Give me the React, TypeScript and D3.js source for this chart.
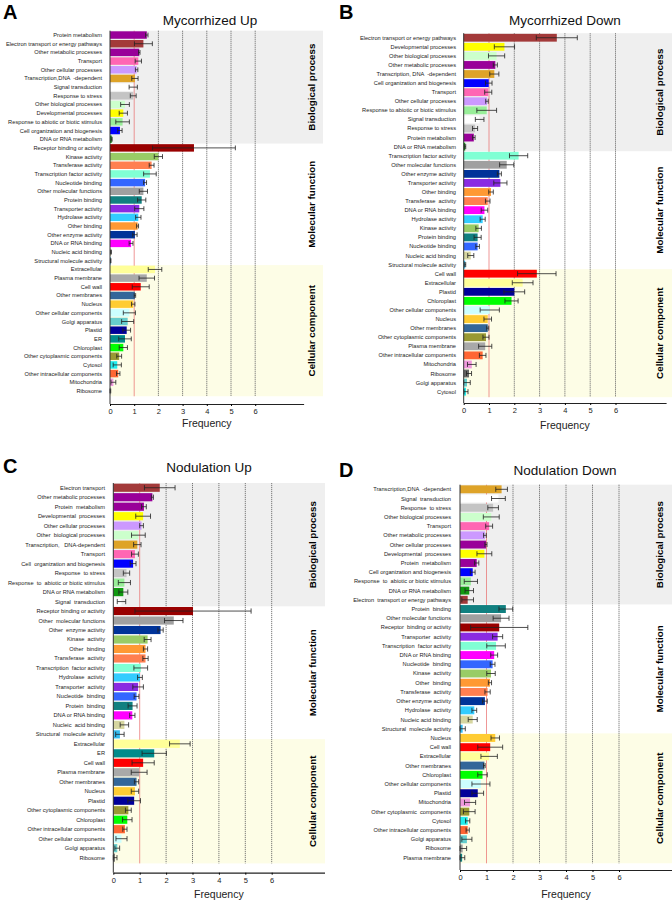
import React, { useEffect, useRef } from 'react';
import * as d3 from 'd3';

// ---- data ----
const sectionNames = ['Biological process', 'Molecular function', 'Cellular component'];

// A: Mycorrhized Up
const aLabels = [
  'Protein metabolism', 'Electron transport or energy pathways', 'Other metabolic processes', 'Transport',
  'Other cellular processes', 'Transcription,DNA  -dependent', 'Signal transduction', 'Response to stress',
  'Other biological processes', 'Developmental processes', 'Response to abiotic or biotic stimulus',
  'Cell organization and biogenesis', 'DNA or RNA metabolism',
  'Receptor binding or activity', 'Kinase activity', 'Transferase activity', 'Transcription factor activity',
  'Nucleotide binding', 'Other molecular functions', 'Protein binding', 'Transporter activity', 'Hydrolase activity',
  'Other binding', 'Other enzyme activity', 'DNA or RNA binding', 'Nucleic acid binding', 'Structural molecule activity',
  'Extracellular', 'Plasma membrane', 'Cell wall', 'Other membranes', 'Nucleus', 'Other cellular components',
  'Golgi apparatus', 'Plastid', 'ER', 'Chloroplast', 'Other cytoplasmic components', 'Cytosol',
  'Other intracellular components', 'Mitochondria', 'Ribosome',
];
const aValues = [
  1.52, 1.38, 1.21, 1.17, 1.1, 1.03, 0.96, 0.96, 0.62, 0.55, 0.52, 0.41, 0.07,
  3.47, 2.0, 1.72, 1.65, 1.45, 1.38, 1.31, 1.21, 1.17, 1.14, 1.03, 0.87, 0.04, 0.03,
  1.86, 1.52, 1.27, 1.03, 0.96, 0.8, 0.73, 0.69, 0.62, 0.55, 0.38, 0.3, 0.34, 0.14, 0.01,
];
const aErrors = [
  0.05, 0.37, 0.03, 0.13, 0.05, 0.13, 0.17, 0.12, 0.18, 0.17, 0.28, 0.09, 0.02,
  1.71, 0.17, 0.1, 0.26, 0.06, 0.17, 0.17, 0.19, 0.11, 0.04, 0.09, 0.08, 0.02, 0.01,
  0.28, 0.32, 0.35, 0.03, 0.07, 0.25, 0.25, 0.16, 0.26, 0.17, 0.1, 0.17, 0.07, 0.1, 0.02,
];
const aSections = [13, 14, 15];

// B: Mycorrhized Down
const bLabels = [
  'Electron transport or energy pathways', 'Developmental processes', 'Other biological processes',
  'Other metabolic processes', 'Transcription, DNA  -dependent', 'Cell organization and biogenesis', 'Transport',
  'Other cellular processes', 'Response to abiotic or biotic stimulus', 'Signal transduction', 'Response to stress',
  'Protein metabolism', 'DNA or RNA metabolism',
  'Transcription factor activity', 'Other molecular functions', 'Other enzyme activity', 'Transporter activity',
  'Other binding', 'Transferase  activity', 'DNA or RNA binding', 'Hydrolase activity', 'Kinase activity',
  'Protein binding', 'Nucleotide binding', 'Nucleic acid binding', 'Structural molecule activity',
  'Cell wall', 'Extracellular', 'Plastid', 'Chloroplast', 'Other cellular components', 'Nucleus', 'Other membranes',
  'Other cytoplasmic components', 'Plasma membrane', 'Other intracellular components', 'Mitochondria', 'Ribosome',
  'Golgi apparatus', 'Cytosol',
];
const bValues = [
  3.68, 1.61, 1.3, 1.25, 1.21, 0.99, 0.97, 0.92, 0.91, 0.63, 0.45, 0.4, 0.06,
  2.17, 1.7, 1.41, 1.45, 1.08, 0.95, 0.82, 0.75, 0.59, 0.55, 0.55, 0.28, 0.06,
  2.89, 2.33, 2.0, 1.89, 1.03, 0.95, 0.95, 0.88, 0.85, 0.75, 0.32, 0.21, 0.13, 0.09,
];
const bErrors = [
  0.81, 0.4, 0.32, 0.08, 0.18, 0.13, 0.14, 0.05, 0.39, 0.17, 0.1, 0.05, 0.02,
  0.36, 0.28, 0.08, 0.26, 0.09, 0.09, 0.13, 0.1, 0.11, 0.14, 0.07, 0.12, 0.02,
  0.76, 0.41, 0.41, 0.26, 0.38, 0.15, 0.04, 0.12, 0.26, 0.13, 0.17, 0.1, 0.13, 0.08,
];
const bSections = [13, 13, 14];

// C: Nodulation Up
const cLabels = [
  'Electron transport', 'Other metabolic processes', 'Protein  metabolism', 'Developmental  processes',
  'Other cellular processes', 'Other  biological processes', 'Transcription,   DNA-dependent', 'Transport',
  'Cell  organization and biogenesis', 'Response  to stress', 'Response  to  abiotic or biotic stimulus',
  'DNA or RNA metabolism', 'Signal  transduction',
  'Receptor binding or activity', 'Other  molecular functions', 'Other  enzyme activity', 'Kinase  activity',
  'Other  binding', 'Transferase  activity', 'Transcription  factor activity', 'Hydrolase  activity',
  'Transporter  activity', 'Nucleotide  binding', 'Protein  binding', 'DNA or RNA binding', 'Nucleic  acid binding',
  'Structural  molecule activity',
  'Extracellular', 'ER', 'Cell wall', 'Plasma membrane', 'Other membranes', 'Nucleus', 'Plastid',
  'Other cytoplasmic components', 'Chloroplast', 'Other intracellular components', 'Other cellular components',
  'Golgi apparatus', 'Ribosome',
];
const cValues = [
  1.76, 1.48, 1.16, 1.13, 1.07, 0.95, 0.91, 0.82, 0.75, 0.5, 0.42, 0.38, 0.31,
  3.02, 2.29, 1.79, 1.3, 1.22, 1.22, 1.04, 1.01, 0.94, 0.88, 0.73, 0.72, 0.42, 0.25,
  2.52, 1.55, 1.13, 0.98, 0.88, 0.82, 0.79, 0.57, 0.53, 0.44, 0.31, 0.15, 0.06,
];
const cErrors = [
  0.58, 0.04, 0.09, 0.28, 0.07, 0.26, 0.14, 0.13, 0.11, 0.12, 0.23, 0.17, 0.16,
  2.2, 0.35, 0.1, 0.13, 0.08, 0.1, 0.26, 0.09, 0.2, 0.09, 0.17, 0.1, 0.16, 0.16,
  0.39, 0.46, 0.42, 0.3, 0.08, 0.14, 0.24, 0.11, 0.18, 0.08, 0.21, 0.09, 0.08,
];
const cSections = [13, 14, 13];

// D: Nodulation Down
const dLabels = [
  'Transcription,DNA  -dependent', 'Signal  transduction', 'Response  to stress', 'Other biological processes',
  'Transport', 'Other metabolic processes', 'Other cellular processes', 'Developmental  processes',
  'Protein  metabolism', 'Cell organization and biogenesis', 'Response  to  abiotic or biotic stimulus',
  'DNA or RNA metabolism', 'Electron  transport or energy pathways',
  'Protein  binding', 'Other molecular functions', 'Receptor  binding or activity', 'Transporter  activity',
  'Transcription  factor activity', 'DNA or RNA binding', 'Nucleotide  binding', 'Kinase  activity',
  'Other  binding', 'Transferase  activity', 'Other enzyme activity', 'Hydrolase  activity',
  'Nucleic acid binding', 'Structural  molecule activity',
  'Nucleus', 'Cell wall', 'Extracellular', 'Other membranes', 'Chloroplast', 'Other cellular components', 'Plastid',
  'Mitochondria', 'Other cytoplasmic  components', 'Cytosol', 'Other intracellular components', 'Golgi apparatus',
  'Ribosome', 'Plasma membrane',
];
const dValues = [
  1.57, 1.45, 1.25, 1.18, 1.1, 0.94, 0.98, 0.92, 0.63, 0.48, 0.41, 0.35, 0.29,
  1.73, 1.55, 1.48, 1.42, 1.36, 1.29, 1.23, 1.17, 1.13, 1.04, 0.94, 0.54, 0.48, 0.1,
  1.33, 1.14, 1.1, 0.92, 0.85, 0.79, 0.67, 0.38, 0.35, 0.29, 0.29, 0.26, 0.1, 0.08,
];
const dErrors = [
  0.22, 0.26, 0.2, 0.3, 0.13, 0.05, 0.04, 0.28, 0.08, 0.09, 0.25, 0.16, 0.22,
  0.26, 0.3, 1.08, 0.19, 0.35, 0.13, 0.09, 0.16, 0.06, 0.1, 0.09, 0.09, 0.17, 0.1,
  0.16, 0.47, 0.31, 0.03, 0.18, 0.34, 0.22, 0.21, 0.22, 0.08, 0.06, 0.19, 0.15, 0.1,
];
const dSections = [13, 14, 14];

// ---- styles ----
const colorOf: Record<string, string> = {
  'Protein metabolism': '#990099',
  'Electron transport or energy pathways': '#a33a3a',
  'Electron transport': '#a33a3a',
  'Other metabolic processes': '#990099',
  'Transport': '#ff66b3',
  'Other cellular processes': '#cc99ff',
  'Transcription, DNA-dependent': '#dea328',
  'Signal transduction': '#ffffff',
  'Response to stress': '#c4c4c4',
  'Other biological processes': '#ccffcc',
  'Developmental processes': '#ffff00',
  'Response to abiotic or biotic stimulus': '#99ee99',
  'Cell organization and biogenesis': '#0000ff',
  'DNA or RNA metabolism': '#119911',
  'Receptor binding or activity': '#990000',
  'Kinase activity': '#99cc66',
  'Transferase activity': '#ff7f50',
  'Transcription factor activity': '#80ffd4',
  'Nucleotide binding': '#3366ff',
  'Other molecular functions': '#a0a0a0',
  'Protein binding': '#118080',
  'Transporter activity': '#8a2be2',
  'Hydrolase activity': '#33ccff',
  'Other binding': '#ff9933',
  'Other enzyme activity': '#003399',
  'DNA or RNA binding': '#ff00ff',
  'Nucleic acid binding': '#d6d6a0',
  'Structural molecule activity': '#33bbee',
  'Extracellular': '#ffff99',
  'Plasma membrane': '#a9a9a9',
  'Cell wall': '#ff0000',
  'Other membranes': '#336699',
  'Nucleus': '#ffcc33',
  'Other cellular components': '#ccffff',
  'Golgi apparatus': '#66cccc',
  'Plastid': '#000099',
  'ER': '#008b8b',
  'Chloroplast': '#00ff00',
  'Other cytoplasmic components': '#999933',
  'Cytosol': '#22eeee',
  'Other intracellular components': '#ff6633',
  'Mitochondria': '#ee99dd',
  'Ribosome': '#666666',
};
const dColorOverride: Record<string, string> = {
  'Other metabolic processes': '#cc99ff',
  'Other cellular processes': '#990099',
  'Ribosome': '#999999',
  'Plasma membrane': '#118080',
};

const norm = (s: string) => s.replace(/\s+/g, ' ').replace(',DNA -', ', DNA-').replace(', DNA -', ', DNA-').trim();

const panels = [
  { letter: 'A', title: 'Mycorrhized Up', labels: aLabels, values: aValues, errors: aErrors, sections: aSections,
    letterX: 3, letterY: 19, titleX: 210, titleY: 25, labelRight: 102, x0: 110, unit: 24.2, bandRight: 323,
    yTop: 30.7, yBottom: 395.3, axisY: 404, sectionX: 312, freqY: 427, override: {} },
  { letter: 'B', title: 'Mycorrhized Down', labels: bLabels, values: bValues, errors: bErrors, sections: bSections,
    letterX: 339, letterY: 19, titleX: 565, titleY: 25, labelRight: 456, x0: 463.7, unit: 25.3, bandRight: 672,
    yTop: 33.2, yBottom: 396.2, axisY: 403, sectionX: 660, freqY: 429, override: {} },
  { letter: 'C', title: 'Nodulation Up', labels: cLabels, values: cValues, errors: cErrors, sections: cSections,
    letterX: 3, letterY: 473, titleX: 209, titleY: 472, labelRight: 105, x0: 113.3, unit: 26.4, bandRight: 325,
    yTop: 483, yBottom: 862.4, axisY: 872.7, sectionX: 313, freqY: 898, override: {} },
  { letter: 'D', title: 'Nodulation Down', labels: dLabels, values: dValues, errors: dErrors, sections: dSections,
    letterX: 339, letterY: 477, titleX: 565, titleY: 475, labelRight: 451, x0: 460, unit: 26.5, bandRight: 672,
    yTop: 484.7, yBottom: 862.3, axisY: 870, sectionX: 660, freqY: 898, override: dColorOverride },
];

const FONT = '"Liberation Sans", Arial, sans-serif';

function drawPanel(svg: any, p: any) {
  const g = svg.append('g');
  const n = p.labels.length;
  const x = d3.scaleLinear().domain([0, 8]).range([p.x0, p.x0 + 8 * p.unit]);
  const y = d3.scaleBand<number>().domain(d3.range(n)).range([p.yTop, p.yBottom]).paddingInner(0.14).paddingOuter(0.07);
  const step = y.step();
  const s0 = p.sections[0];
  const s1 = p.sections[0] + p.sections[1];
  const b1 = p.yTop + step * s0;
  const b2 = p.yTop + step * s1;
  const bottom = p.yBottom + 1;

  // section backgrounds
  g.append('rect').attr('x', p.x0).attr('y', p.yTop).attr('width', p.bandRight - p.x0).attr('height', b1 - p.yTop).attr('fill', '#efefef');
  g.append('rect').attr('x', p.x0).attr('y', b2).attr('width', p.bandRight - p.x0).attr('height', bottom - b2).attr('fill', '#fdfde6');

  // grid lines
  g.selectAll('.grid')
    .data([2, 3, 4, 5, 6])
    .join('line')
    .attr('x1', (d: number) => x(d)).attr('x2', (d: number) => x(d))
    .attr('y1', p.yTop).attr('y2', bottom)
    .attr('stroke', '#6a6a6a').attr('stroke-width', 0.9).attr('stroke-dasharray', '1.2,0.8');
  g.append('line').attr('x1', x(1)).attr('x2', x(1)).attr('y1', p.yTop).attr('y2', bottom)
    .attr('stroke', '#e86a6a').attr('stroke-width', 0.7);

  const color = (label: string) => p.override[norm(label)] || colorOf[norm(label)] || '#888';

  // bars
  g.selectAll('.bar')
    .data(p.labels.map((l: string, i: number) => ({ l, i, v: p.values[i], e: p.errors[i] })))
    .join('rect')
    .attr('x', x(0))
    .attr('y', (d: any) => y(d.i))
    .attr('width', (d: any) => x(d.v) - x(0))
    .attr('height', y.bandwidth())
    .attr('fill', (d: any) => color(d.l));

  // error bars
  const eg = g.append('g').attr('stroke', '#222').attr('stroke-width', 0.8);
  p.labels.forEach((_: string, i: number) => {
    const cy = (y(i) as number) + y.bandwidth() / 2;
    const lo = x(Math.max(0, p.values[i] - p.errors[i]));
    const hi = x(p.values[i] + p.errors[i]);
    const h = y.bandwidth() * 0.32;
    eg.append('line').attr('x1', lo).attr('x2', hi).attr('y1', cy).attr('y2', cy);
    eg.append('line').attr('x1', lo).attr('x2', lo).attr('y1', cy - h).attr('y2', cy + h);
    eg.append('line').attr('x1', hi).attr('x2', hi).attr('y1', cy - h).attr('y2', cy + h);
  });

  // category labels
  g.selectAll('.lab')
    .data(p.labels)
    .join('text')
    .attr('x', p.labelRight)
    .attr('y', (_: string, i: number) => (y(i) as number) + y.bandwidth() / 2)
    .attr('dy', '0.35em')
    .attr('text-anchor', 'end')
    .attr('font-family', FONT)
    .attr('font-size', 5.7)
    .attr('fill', '#1a1a1a')
    .style('white-space', 'pre')
    .text((d: string) => d);

  // section names
  const centers = [(p.yTop + b1) / 2, (b1 + b2) / 2, (b2 + bottom) / 2];
  sectionNames.forEach((s, i) => {
    g.append('text')
      .attr('transform', `translate(${p.sectionX},${centers[i]}) rotate(-90)`)
      .attr('text-anchor', 'middle')
      .attr('dy', '0.35em')
      .attr('font-family', FONT)
      .attr('font-weight', 'bold')
      .attr('font-size', 9.8)
      .text(s);
  });

  // y axis line
  g.append('line').attr('x1', x(0)).attr('x2', x(0)).attr('y1', p.yTop).attr('y2', p.axisY).attr('stroke', '#333').attr('stroke-width', 1);

  // x axis
  const ax = g.append('g')
    .attr('transform', `translate(0,${p.axisY})`)
    .call(d3.axisBottom(x).tickValues([0, 1, 2, 3, 4, 5, 6]).tickFormat(d3.format('d')).tickSize(2).tickSizeOuter(0).tickPadding(3));
  ax.select('.domain').attr('stroke', '#222').attr('stroke-width', 1.2);
  ax.selectAll('text').attr('font-family', FONT).attr('font-size', 7.5).attr('fill', '#222');

  g.append('text').attr('x', x(4)).attr('y', p.freqY).attr('text-anchor', 'middle')
    .attr('font-family', FONT).attr('font-size', 10.5).attr('fill', '#222').text('Frequency');

  g.append('text').attr('x', p.titleX).attr('y', p.titleY).attr('text-anchor', 'middle')
    .attr('font-family', FONT).attr('font-size', 13.5).attr('fill', '#111').text(p.title);

  g.append('text').attr('x', p.letterX).attr('y', p.letterY)
    .attr('font-family', FONT).attr('font-weight', 'bold').attr('font-size', 20).attr('fill', '#000').text(p.letter);
}

export default function App() {
  const ref = useRef<SVGSVGElement>(null);
  useEffect(() => {
    document.body.style.margin = '0';
    const svg = d3.select(ref.current);
    svg.selectAll('*').remove();
    svg.append('rect').attr('width', 672).attr('height', 905).attr('fill', '#fff');
    panels.forEach((p) => drawPanel(svg, p));
  }, []);
  return <svg ref={ref} width={672} height={905} style={{ display: 'block' }} />;
}
